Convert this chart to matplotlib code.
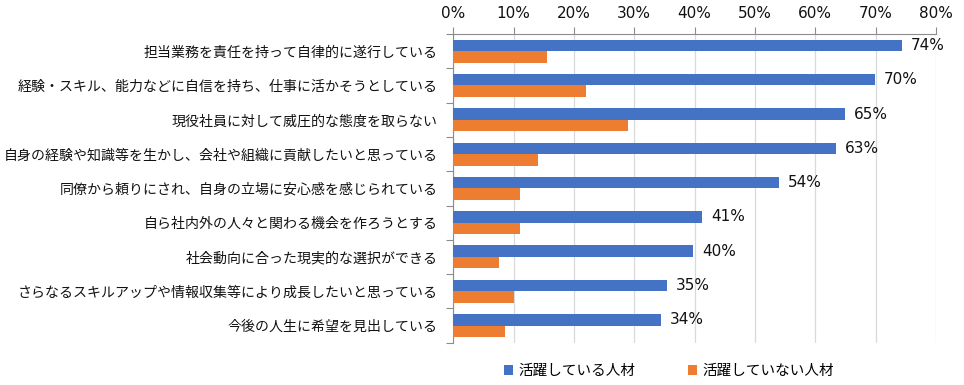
import matplotlib
matplotlib.use('Agg')
import matplotlib.pyplot as plt
from matplotlib.ticker import PercentFormatter, FixedLocator

plt.rcParams['font.family'] = ['Noto Sans CJK JP', 'DejaVu Sans']

categories = [
    '担当業務を責任を持って自律的に遂行している',
    '経験・スキル、能力などに自信を持ち、仕事に活かそうとしている',
    '現役社員に対して威圧的な態度を取らない',
    '自身の経験や知識等を生かし、会社や組織に貢献したいと思っている',
    '同僚から頼りにされ、自身の立場に安心感を感じられている',
    '自ら社内外の人々と関わる機会を作ろうとする',
    '社会動向に合った現実的な選択ができる',
    'さらなるスキルアップや情報収集等により成長したいと思っている',
    '今後の人生に希望を見出している',
]
active = [0.743, 0.699, 0.649, 0.634, 0.540, 0.412, 0.398, 0.354, 0.344]
inactive = [0.155, 0.220, 0.289, 0.140, 0.110, 0.110, 0.076, 0.100, 0.085]
series_names = ['活躍している人材', '活躍していない人材']

W, H = 964, 385
fig = plt.figure(figsize=(W / 100, H / 100), dpi=100)
ax = fig.add_axes([453.3 / W, 1 - 342.7 / H, (936 - 453.3) / W, (342.7 - 34) / H])

y = list(range(len(categories)))
bh = 0.335
b1 = ax.barh([i - bh / 2 for i in y], active, height=bh, color='#4472C4', label=series_names[0], zorder=3)
b2 = ax.barh([i + bh / 2 for i in y], inactive, height=bh, color='#ED7D31', label=series_names[1], zorder=3)

ax.bar_label(b1, labels=[f'{round(v * 100)}%' for v in active], padding=6.5,
             fontsize=11, color='#111111', family='DejaVu Sans')

ax.set_xlim(0, 0.8)
ax.set_ylim(len(categories) - 0.5, -0.5)
ax.xaxis.set_major_locator(FixedLocator([i / 10 for i in range(9)]))
ax.xaxis.set_major_formatter(PercentFormatter(1.0, decimals=0))
ax.xaxis.tick_top()
ax.tick_params(axis='x', direction='out', length=5, width=0.8, color='#8c8c8c',
               labelsize=11, pad=4, labelcolor='#111111', labelfontfamily='DejaVu Sans')
ax.grid(axis='x', color='#d9d9d9', linewidth=0.9, zorder=0)

ax.set_yticks(y)
ax.set_yticklabels(categories, fontsize=10.05, color='#111111')
ax.set_yticks([i + 0.5 for i in range(-1, len(categories))], minor=True)
ax.tick_params(axis='y', which='major', length=0, pad=11)
ax.tick_params(axis='y', which='minor', length=5, width=0.8, color='#8c8c8c')

for side in ['right', 'bottom']:
    ax.spines[side].set_visible(False)
ax.spines['top'].set_color('#8c8c8c')
ax.spines['left'].set_color('#8c8c8c')

fig.legend(handles=[b1, b2], loc='center', bbox_to_anchor=(669 / W, 1 - 371 / H),
           ncol=2, frameon=False, fontsize=10.5, handlelength=0.65, handleheight=0.65,
           handletextpad=0.35, columnspacing=3.6)

fig.savefig('out.png', dpi=100)
